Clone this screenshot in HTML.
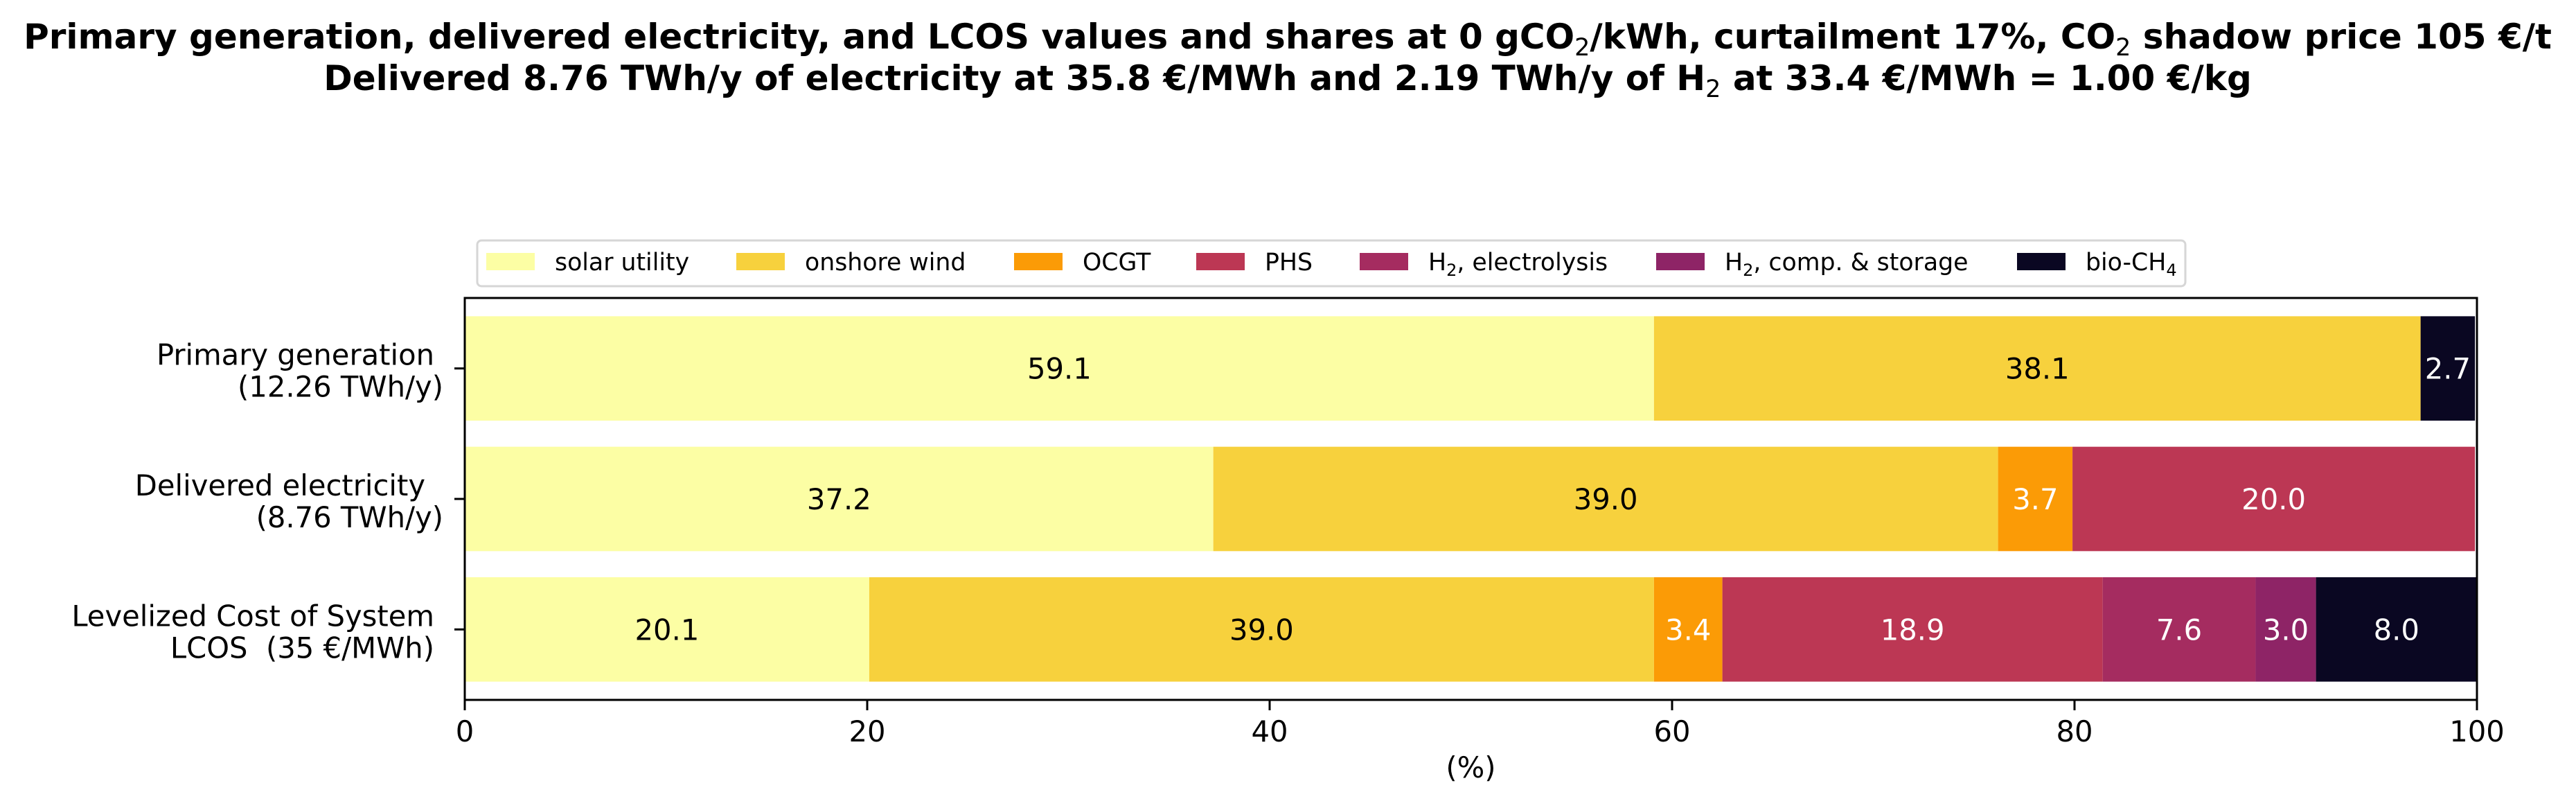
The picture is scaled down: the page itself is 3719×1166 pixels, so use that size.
<!DOCTYPE html>
<html><head><meta charset="utf-8"><style>
html,body{margin:0;padding:0;background:#fff;}
svg{display:block;font-family:"DejaVu Sans","Liberation Sans",sans-serif;}
text{white-space:pre;}
</style></head><body>
<svg id="chart" width="3719" height="1166" viewBox="0 0 3719 1166" xmlns="http://www.w3.org/2000/svg">
<rect width="3719" height="1166" fill="#fff"/>
<g font-weight="bold" font-size="50" text-anchor="middle">
<text x="1859" y="70">Primary generation, delivered electricity, and LCOS values and shares at 0 gCO<tspan font-size="35" font-weight="normal" dy="10">2</tspan><tspan dy="-10">/kWh, curtailment 17%, CO</tspan><tspan font-size="35" font-weight="normal" dy="10">2</tspan><tspan dy="-10"> shadow price 105 €/t</tspan></text>
<text x="1859" y="130">Delivered 8.76 TWh/y of electricity at 35.8 €/MWh and 2.19 TWh/y of H<tspan font-size="35" font-weight="normal" dy="10">2</tspan><tspan dy="-10"> at 33.4 €/MWh = 1.00 €/kg</tspan></text>
</g>
<g id="legend">
<rect x="689" y="347" width="2466" height="66" rx="6" fill="#fff" stroke="#d6d6d6" stroke-width="3"/>
</g>
<g id="bars"></g>
<g id="axes"></g>
</svg>
<script>
const categories = ["Primary generation", "Delivered electricity", "LCOS"];
const seriesNames = ["solar utility","onshore wind","OCGT","PHS","H2, electrolysis","H2, comp. & storage","bio-CH4"];
const solarVals = [59.1, 37.2, 20.1];
const windVals = [38.1, 39.0, 39.0];
const ocgtVals = [0, 3.7, 3.4];
const phsVals = [0, 20.0, 18.9];
const elecVals = [0, 0, 7.6];
const compVals = [0, 0, 3.0];
const bioVals = [2.7, 0, 8.0];
const xTicks = [0, 20, 40, 60, 80, 100];

const series = [solarVals, windVals, ocgtVals, phsVals, elecVals, compVals, bioVals];
const colors = ["#fcfea4","#f7d13d","#fb9b06","#bc3754","#a52c60","#8e2466","#0a0722"];
const textColors = ["#000","#000","#fff","#fff","#fff","#fff","#fff"];
const NS = "http://www.w3.org/2000/svg";
const L = 671, R = 3576, T = 430, B = 1010;
const x = v => L + (v / 100) * (R - L);
const yUnit = (B - T) / 3.08;
const barH = 0.8 * yUnit;
function mk(tag, attrs, parent){const e=document.createElementNS(NS,tag);for(const k in attrs)e.setAttribute(k,attrs[k]);parent.appendChild(e);return e;}
const bars = document.getElementById('bars');
const axes = document.getElementById('axes');
function ycen(i){return T + (0.54 + i) * yUnit;}
categories.forEach((c, i) => {
  let acc = 0;
  series.forEach((s, k) => {
    const v = s[i];
    if (v > 0) {
      const r = mk('rect', {x: x(acc), y: ycen(i) - barH/2, width: x(acc+v) - x(acc), height: barH, fill: colors[k]}, bars);
      
      
      const t = mk('text', {x: (x(acc) + x(acc+v)) / 2, y: ycen(i) + 15, 'font-size': 41.7, 'text-anchor': 'middle', fill: textColors[k]}, bars);
      t.textContent = v.toFixed(1);
      
      
    }
    acc += v;
  });
});
const frame = mk('rect', {x: L, y: T, width: R-L, height: B-T, fill: 'none', stroke: '#000', 'stroke-width': 3}, axes);


xTicks.forEach(v => {
  const l = mk('line', {x1: x(v), x2: x(v), y1: B, y2: B + 15, stroke: '#000', 'stroke-width': 3}, axes);
  
  
  const t = mk('text', {x: x(v), y: 1070, 'font-size': 41.7, 'text-anchor': 'middle'}, axes);
  t.textContent = v;
  
  
});
const xt = mk('text', {x: (L+R)/2, y: 1122, 'font-size': 41.7, 'text-anchor': 'middle'}, axes);
xt.textContent = '(%)';


const yLabels = [["Primary generation","(12.26 TWh/y)"],["Delivered electricity","(8.76 TWh/y)"],["Levelized Cost of System","LCOS  (35 €/MWh)"]];
const yEnds = [[627,640],[614,640],[627,627]];
yLabels.forEach((lines, i) => {
  const tk = mk('line', {x1: L - 15, x2: L, y1: ycen(i), y2: ycen(i), stroke: '#000', 'stroke-width': 3}, axes);
  
  
  lines.forEach((s, j) => {
    const t = mk('text', {x: yEnds[i][j], y: ycen(i) - 5 + j * 46, 'font-size': 41.7, 'text-anchor': 'end'}, axes);
    t.textContent = s;
    
    
  });
});
const legend = document.getElementById('legend');
const legX = [702, 1063, 1464, 1727, 1963, 2391, 2912];
const legLabels = [["solar utility"],["onshore wind"],["OCGT"],["PHS"],["H","2",", electrolysis"],["H","2",", comp. & storage"],["bio-CH","4",""]];
legLabels.forEach((parts, k) => {
  const p = mk('rect', {x: legX[k], y: 365, width: 70, height: 25, fill: colors[k]}, legend);
  
  
  const t = mk('text', {x: legX[k] + 99, y: 390, 'font-size': 34.7}, legend);
  
  
  if (parts.length === 1) { t.textContent = parts[0]; }
  else {
    t.appendChild(document.createTextNode(parts[0]));
    const s = mk('tspan', {'font-size': 24, dy: 8}, t); s.textContent = parts[1];
    if (parts[2]) { const r = mk('tspan', {dy: -8}, t); r.textContent = parts[2]; }
  }
});
</script>
</body></html>
